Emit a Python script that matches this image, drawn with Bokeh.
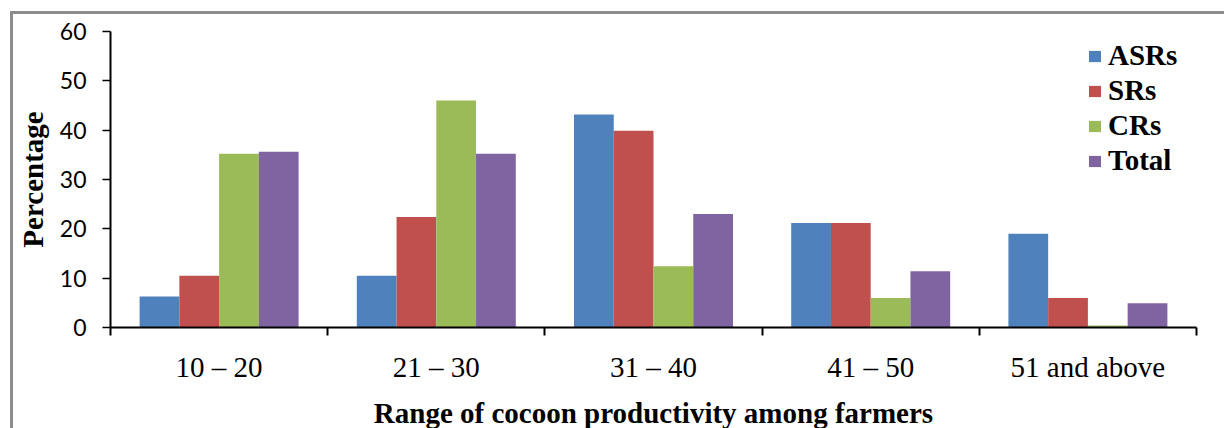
from bokeh.plotting import figure
from bokeh.models import Range1d, FixedTicker, Legend, LegendItem, ColumnDataSource
from bokeh.embed import file_html
from bokeh.resources import INLINE

categories = ["10 – 20", "21 – 30", "31 – 40", "41 – 50", "51 and above"]
series = ["ASRs", "SRs", "CRs", "Total"]
asrs = [6.3, 10.5, 43.2, 21.2, 19.0]
srs = [10.5, 22.4, 39.9, 21.2, 6.0]
crs = [35.2, 46.0, 12.4, 6.0, 0.4]
total = [35.6, 35.2, 23.0, 11.4, 4.9]
colors = ["#4F81BD", "#C0504D", "#9BBB59", "#8064A2"]
y_ticks = [0, 10, 20, 30, 40, 50, 60]

values = [asrs, srs, crs, total]

p = figure(width=1214, height=417, output_backend="svg", toolbar_location=None,
           x_range=Range1d(-0.5, len(categories) - 0.5), y_range=Range1d(0, 60),
           min_border_left=93, min_border_top=17, min_border_right=31, min_border_bottom=103)
p.margin = (11, 0, 0, 10)
p.styles = {"border-left": "3px solid #8c8c8c", "border-top": "3px solid #8c8c8c"}
p.outline_line_color = None
p.xgrid.grid_line_color = None
p.ygrid.grid_line_color = None

bar_w = 0.183
items = []
for j, (name, vals, col) in enumerate(zip(series, values, colors)):
    src = ColumnDataSource(dict(x=[i + (j - 1.5) * bar_w for i in range(len(categories))], top=vals))
    r = p.vbar(x="x", top="top", width=bar_w, bottom=0, source=src, fill_color=col, line_color=None)
    items.append(LegendItem(label=name, renderers=[r]))

legend = Legend(items=items, location=(977, 150), glyph_width=15, glyph_height=14,
                label_standoff=6, padding=0, margin=0, spacing=2, label_height=30,
                border_line_color=None, background_fill_alpha=0,
                label_text_font="Liberation Serif", label_text_font_style="bold",
                label_text_font_size="29px", label_text_color="black")
p.add_layout(legend)

# y axis
ya = p.yaxis[0]
ya.ticker = FixedTicker(ticks=y_ticks)
ya.minor_tick_line_color = None
ya.major_tick_in = 0
ya.major_tick_out = 8
ya.major_tick_line_width = 1.5
ya.major_tick_line_color = "black"
ya.axis_line_width = 2
ya.axis_line_color = "black"
ya.major_label_standoff = 16
ya.major_label_text_font = "Lato"
ya.major_label_text_font_size = "23px"
ya.major_label_text_color = "black"
ya.axis_label = "Percentage"
ya.axis_label_text_font = "Liberation Serif"
ya.axis_label_text_font_style = "bold"
ya.axis_label_text_font_size = "29px"
ya.axis_label_text_color = "black"
ya.axis_label_standoff = 8

# x axis
xa = p.xaxis[0]
xa.ticker = FixedTicker(ticks=list(range(len(categories))),
                        minor_ticks=[i - 0.5 for i in range(len(categories) + 1)])
xa.major_label_overrides = {i: c for i, c in enumerate(categories)}
xa.major_tick_in = 0
xa.major_tick_out = 0
xa.minor_tick_in = 0
xa.minor_tick_out = 8
xa.minor_tick_line_width = 2
xa.minor_tick_line_color = "black"
xa.axis_line_width = 2
xa.axis_line_color = "black"
xa.major_label_standoff = 15
xa.major_label_text_font = "Liberation Serif"
xa.major_label_text_font_size = "29px"
xa.major_label_text_color = "black"
xa.axis_label = "Range of cocoon productivity among farmers"
xa.axis_label_text_font = "Liberation Serif"
xa.axis_label_text_font_style = "bold"
xa.axis_label_text_font_size = "29px"
xa.axis_label_text_color = "black"
xa.axis_label_standoff = 11

open("out.html", "w").write(file_html(p, INLINE))
